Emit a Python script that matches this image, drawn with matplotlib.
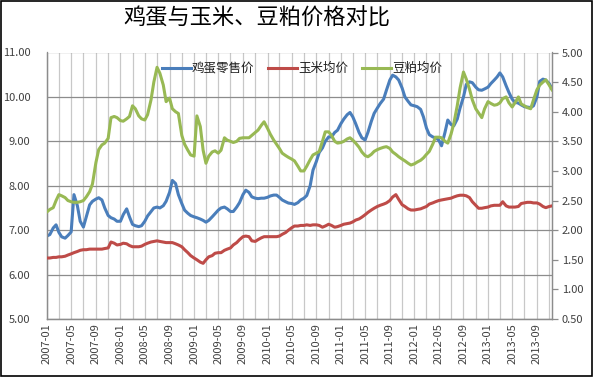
import numpy as np
import pandas as pd
import matplotlib
matplotlib.use('Agg')
import matplotlib.pyplot as plt
import matplotlib.dates as mdates
from matplotlib.patches import Rectangle
from matplotlib.ticker import FormatStrFormatter, MultipleLocator

plt.rcParams['font.family'] = ['Noto Sans CJK SC', 'DejaVu Sans']

title = '鸡蛋与玉米、豆粕价格对比'
series_names = ['鸡蛋零售价', '玉米均价', '豆粕均价']

# semi-monthly observations starting 2007-01
egg = [
    6.87, 6.90, 7.05, 7.12, 6.95, 6.85, 6.82, 6.88, 6.96, 7.80, 7.55, 7.20,
    7.07, 7.30, 7.57, 7.65, 7.70, 7.73, 7.68, 7.50, 7.33, 7.28, 7.25, 7.20,
    7.20, 7.35, 7.48, 7.30, 7.13, 7.10, 7.08, 7.10, 7.20, 7.32, 7.42, 7.50,
    7.52, 7.50, 7.55, 7.65, 7.85, 8.12, 8.05, 7.80, 7.60, 7.45, 7.38, 7.33,
    7.30, 7.28, 7.25, 7.22, 7.18, 7.22, 7.30, 7.37, 7.45, 7.50, 7.52, 7.48,
    7.42, 7.42, 7.52, 7.62, 7.80, 7.90, 7.85, 7.75, 7.72, 7.71, 7.72, 7.72,
    7.74, 7.77, 7.79, 7.79, 7.74, 7.68, 7.64, 7.61, 7.60, 7.58, 7.62, 7.68,
    7.72, 7.78, 8.00, 8.35, 8.55, 8.75, 8.85, 9.00, 9.10, 9.10, 9.20, 9.25,
    9.40, 9.50, 9.60, 9.65, 9.55, 9.40, 9.20, 9.08, 9.03, 9.20, 9.45, 9.63,
    9.75, 9.85, 9.95, 10.15, 10.38, 10.49, 10.45, 10.38, 10.20, 10.00, 9.90, 9.82,
    9.80, 9.78, 9.72, 9.55, 9.30, 9.15, 9.10, 9.08, 9.03, 8.90, 9.20, 9.48,
    9.38, 9.35, 9.50, 9.75, 10.00, 10.28, 10.34, 10.32, 10.22, 10.16, 10.15, 10.18,
    10.22, 10.30, 10.38, 10.45, 10.54, 10.45, 10.25, 10.10, 9.95, 9.88, 9.86, 9.82,
    9.78, 9.77, 9.76, 9.80, 10.00, 10.35, 10.40, 10.38, 10.30, 10.18,
]

corn = [
    1.53, 1.53, 1.54, 1.54, 1.55, 1.55, 1.56, 1.58, 1.60, 1.62, 1.64, 1.66,
    1.67, 1.67, 1.68, 1.68, 1.68, 1.68, 1.68, 1.69, 1.70, 1.80, 1.78, 1.75,
    1.76, 1.78, 1.77, 1.74, 1.72, 1.72, 1.72, 1.73, 1.76, 1.78, 1.80, 1.81,
    1.82, 1.81, 1.80, 1.79, 1.79, 1.79, 1.77, 1.75, 1.72, 1.67, 1.62, 1.57,
    1.53, 1.50, 1.46, 1.44, 1.50, 1.55, 1.57, 1.61, 1.62, 1.62, 1.66, 1.68,
    1.70, 1.75, 1.79, 1.84, 1.89, 1.90, 1.89, 1.82, 1.81, 1.84, 1.87, 1.89,
    1.89, 1.89, 1.89, 1.89, 1.90, 1.93, 1.96, 2.00, 2.04, 2.07, 2.07, 2.08,
    2.08, 2.09, 2.08, 2.09, 2.09, 2.08, 2.05, 2.07, 2.10, 2.08, 2.05, 2.06,
    2.08, 2.10, 2.11, 2.12, 2.14, 2.17, 2.19, 2.22, 2.26, 2.30, 2.34, 2.37,
    2.40, 2.42, 2.44, 2.46, 2.50, 2.56, 2.60, 2.52, 2.43, 2.40, 2.36, 2.34,
    2.34, 2.35, 2.36, 2.38, 2.40, 2.44, 2.46, 2.48, 2.50, 2.51, 2.52, 2.53,
    2.54, 2.56, 2.58, 2.59, 2.59, 2.58, 2.55, 2.48, 2.42, 2.37, 2.37, 2.38,
    2.39, 2.41, 2.42, 2.42, 2.42, 2.48, 2.41, 2.39, 2.39, 2.39, 2.40, 2.45,
    2.46, 2.47, 2.47, 2.46, 2.46, 2.44, 2.40, 2.38, 2.40, 2.41,
]

meal = [
    2.31, 2.35, 2.38, 2.50, 2.60, 2.58, 2.55, 2.50, 2.48, 2.47, 2.47, 2.48,
    2.50, 2.56, 2.65, 2.78, 3.14, 3.36, 3.44, 3.47, 3.55, 3.90, 3.92, 3.90,
    3.85, 3.84, 3.88, 3.92, 4.10, 4.05, 3.93, 3.88, 3.86, 3.95, 4.20, 4.50,
    4.75, 4.65, 4.45, 4.17, 4.23, 4.05, 4.00, 3.97, 3.60, 3.45, 3.35, 3.27,
    3.25, 3.93, 3.75, 3.35, 3.13, 3.25, 3.32, 3.34, 3.30, 3.35, 3.56, 3.52,
    3.50, 3.48, 3.50, 3.55, 3.56, 3.56, 3.56, 3.60, 3.65, 3.69, 3.77, 3.83,
    3.72, 3.62, 3.52, 3.45, 3.38, 3.30, 3.26, 3.23, 3.20, 3.17, 3.08, 3.00,
    3.00, 3.08, 3.19, 3.27, 3.30, 3.33, 3.50, 3.66, 3.66, 3.60, 3.50, 3.47,
    3.48, 3.50, 3.54, 3.56, 3.52, 3.47, 3.40, 3.32, 3.26, 3.24, 3.28, 3.33,
    3.36, 3.38, 3.40, 3.41, 3.38, 3.32, 3.28, 3.24, 3.20, 3.17, 3.13, 3.10,
    3.12, 3.15, 3.18, 3.22, 3.28, 3.33, 3.45, 3.57, 3.57, 3.56, 3.50, 3.47,
    3.62, 3.80, 4.10, 4.40, 4.67, 4.55, 4.38, 4.20, 4.05, 3.98, 3.90, 4.05,
    4.17, 4.14, 4.11, 4.12, 4.15, 4.22, 4.25, 4.15, 4.08, 4.15, 4.25, 4.13,
    4.10, 4.07, 4.05, 4.20, 4.37, 4.45, 4.50, 4.54, 4.45, 4.37,
]

tick_labels = ['2007-01', '2007-05', '2007-09', '2008-01', '2008-05', '2008-09',
               '2009-01', '2009-05', '2009-09', '2010-01', '2010-05', '2010-09',
               '2011-01', '2011-05', '2011-09', '2012-01', '2012-05', '2012-09',
               '2013-01', '2013-05', '2013-09']

left_ticks = [5, 6, 7, 8, 9, 10, 11]
right_ticks = [0.5, 1.0, 1.5, 2.0, 2.5, 3.0, 3.5, 4.0, 4.5, 5.0]

dates = pd.date_range('2007-01-01', periods=len(egg), freq='SMS')

c_blue = '#4A7EBB'
c_red = '#BE4B48'
c_green = '#98B954'
grid_h = '#8c8c8c'
grid_v = '#c8c8c8'
txt = '#404040'

fig = plt.figure(figsize=(5.93, 3.77), dpi=100)
ax = fig.add_axes([47/593, 58/377, 505/593, 266.5/377])
ax2 = ax.twinx()

l1, = ax.plot(dates, egg, color=c_blue, lw=2.2, label=series_names[0], zorder=3)
l2, = ax2.plot(dates, corn, color=c_red, lw=2.2, label=series_names[1], zorder=3)
l3, = ax2.plot(dates, meal, color=c_green, lw=2.2, label=series_names[2], zorder=4)

ax.set_xlim(dates[0], dates[-1])
ax.set_ylim(5, 11)
ax2.set_ylim(0.5, 5.0)

ax.set_yticks(left_ticks)
ax.yaxis.set_major_formatter(FormatStrFormatter('%.2f'))
ax2.set_yticks(right_ticks)
ax2.yaxis.set_major_formatter(FormatStrFormatter('%.2f'))

tick_pos = pd.to_datetime(tick_labels)
ax.set_xticks(tick_pos)
ax.set_xticklabels(tick_labels, rotation=90)
ax.xaxis.set_minor_locator(mdates.MonthLocator(bymonth=[1, 3, 5, 7, 9, 11]))

ax.grid(axis='y', color=grid_h, lw=0.9, zorder=0)
ax.grid(axis='x', which='both', color=grid_v, lw=0.9, zorder=0)
ax.set_axisbelow(True)

for a in (ax, ax2):
    for s in a.spines.values():
        s.set_color(grid_h)
        s.set_linewidth(0.9)
    a.spines['top'].set_visible(False)

ax.tick_params(axis='y', length=0, pad=12, labelsize=8, labelcolor=txt)
ax.tick_params(axis='x', which='both', length=0, pad=3, labelsize=8, labelcolor=txt)
ax2.tick_params(axis='y', length=4, width=0.9, color=grid_h, pad=3,
                labelsize=8, labelcolor=txt, direction='out')
ax2.patch.set_visible(False)

leg = ax2.legend(handles=[l1, l2, l3], loc='center', bbox_to_anchor=(0.505, 0.94),
                 ncol=3, frameon=False, fontsize=9, handlelength=2.3,
                 handletextpad=0.1, columnspacing=1.1, borderaxespad=0)
for t in leg.get_texts():
    t.set_color('#202020')

fig.text(256.5/593, 1 - 18/377, title, ha='center', va='center',
         fontsize=16, color='black', fontweight='medium')

fig.patches.append(Rectangle((0.001, 0.002), 0.997, 0.995, transform=fig.transFigure,
                             fill=False, edgecolor='black', lw=1.2))

fig.savefig('out.png', dpi=100)
